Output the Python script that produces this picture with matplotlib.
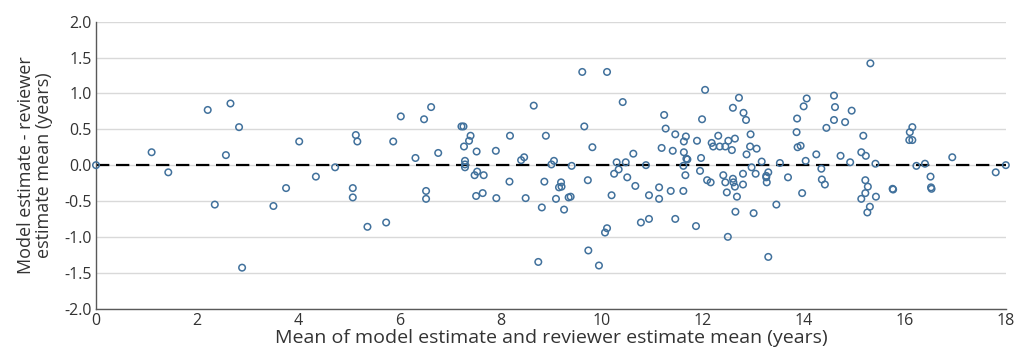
import numpy as np
import matplotlib
matplotlib.use("Agg")
import matplotlib.pyplot as plt
from matplotlib.ticker import FormatStrFormatter

# ==========================================
# Data: mean of estimates vs. difference
# ==========================================

mean_years = [
    0.00, 1.10, 1.43, 2.21, 2.35, 2.57, 2.66, 2.83, 2.89, 3.51,
    3.76, 4.02, 4.35, 4.73, 5.08, 5.08, 5.14, 5.17, 5.37, 5.74,
    5.88, 6.03, 6.32, 6.49, 6.53, 6.53, 6.63, 6.77, 7.23, 7.27,
    7.28, 7.30, 7.30, 7.30, 7.38, 7.41, 7.49, 7.52, 7.53, 7.54,
    7.65, 7.67, 7.91, 7.92, 8.18, 8.19, 8.41, 8.47, 8.50, 8.66,
    8.75, 8.82, 8.87, 8.90, 9.01, 9.06, 9.10, 9.16, 9.20, 9.21,
    9.26, 9.35, 9.39, 9.41, 9.62, 9.66, 9.73, 9.74, 9.82, 9.95,
    10.07, 10.11, 10.11, 10.20, 10.25, 10.30, 10.34, 10.42, 10.48, 10.51,
    10.63, 10.67, 10.78, 10.88, 10.94, 10.94, 11.14, 11.14, 11.19, 11.24,
    11.27, 11.37, 11.41, 11.46, 11.46, 11.62, 11.62, 11.63, 11.66, 11.67,
    11.68, 11.63, 11.70, 11.87, 11.89, 11.95, 11.97, 11.99, 12.05, 12.09,
    12.16, 12.18, 12.21, 12.31, 12.34, 12.41, 12.45, 12.45, 12.48, 12.50,
    12.51, 12.58, 12.60, 12.60, 12.61, 12.64, 12.64, 12.65, 12.68, 12.72,
    12.80, 12.80, 12.81, 12.86, 12.87, 12.94, 12.95, 12.97, 13.01, 13.05,
    13.07, 13.17, 13.26, 13.26, 13.27, 13.30, 13.30, 13.46, 13.53, 13.69,
    13.86, 13.87, 13.88, 13.94, 13.97, 14.00, 14.04, 14.06, 14.25, 14.35,
    14.36, 14.42, 14.45, 14.60, 14.60, 14.62, 14.73, 14.82, 14.92, 14.95,
    15.14, 15.14, 15.18, 15.22, 15.22, 15.23, 15.26, 15.27, 15.31, 15.32,
    15.42, 15.43, 15.76, 15.77, 16.09, 16.10, 16.15, 16.15, 16.23, 16.40,
    16.51, 16.52, 16.53, 16.94, 17.80, 18.00,
]

diff_years = [
    0.00, 0.18, -0.10, 0.77, -0.55, 0.14, 0.86, 0.53, -1.43, -0.57,
    -0.32, 0.33, -0.16, -0.03, -0.32, -0.45, 0.42, 0.33, -0.86, -0.80,
    0.33, 0.68, 0.10, 0.64, -0.36, -0.47, 0.81, 0.17, 0.54, 0.54,
    0.26, 0.06, 0.01, -0.03, 0.34, 0.41, -0.14, -0.43, 0.19, -0.09,
    -0.39, -0.14, 0.20, -0.46, -0.23, 0.41, 0.07, 0.11, -0.46, 0.83,
    -1.35, -0.59, -0.23, 0.41, 0.01, 0.06, -0.47, -0.31, -0.24, -0.30,
    -0.62, -0.45, -0.44, -0.01, 1.30, 0.54, -0.21, -1.19, 0.25, -1.40,
    -0.94, -0.88, 1.30, -0.42, -0.12, 0.04, -0.06, 0.88, 0.04, -0.17,
    0.16, -0.29, -0.80, 0.00, -0.75, -0.42, -0.31, -0.47, 0.24, 0.70,
    0.51, -0.36, 0.20, 0.43, -0.75, -0.36, -0.01, 0.33, -0.14, 0.40,
    0.09, 0.18, 0.08, -0.85, 0.34, -0.08, 0.10, 0.64, 1.05, -0.21,
    -0.24, 0.31, 0.26, 0.41, 0.26, -0.14, 0.26, -0.24, -0.38, -1.00,
    0.34, 0.21, 0.80, -0.19, -0.24, -0.30, 0.37, -0.65, -0.44, 0.94,
    -0.12, -0.27, 0.73, 0.63, 0.15, 0.26, 0.43, -0.03, -0.67, -0.12,
    0.23, 0.05, -0.15, -0.17, -0.24, -0.10, -1.28, -0.55, 0.03, -0.17,
    0.46, 0.65, 0.25, 0.27, -0.39, 0.82, 0.06, 0.93, 0.15, -0.05,
    -0.20, -0.27, 0.52, 0.97, 0.63, 0.81, 0.13, 0.60, 0.04, 0.76,
    0.18, -0.47, 0.41, -0.21, -0.39, 0.13, -0.66, -0.30, -0.58, 1.42,
    0.02, -0.44, -0.33, -0.34, 0.35, 0.46, 0.53, 0.35, -0.01, 0.02,
    -0.16, -0.31, -0.33, 0.11, -0.10, 0.00,
]

x_ticks = [0, 2, 4, 6, 8, 10, 12, 14, 16, 18]
y_ticks = [-2.0, -1.5, -1.0, -0.5, 0.0, 0.5, 1.0, 1.5, 2.0]

# ==========================================
# Plot
# ==========================================

plt.rcParams["font.family"] = ["Open Sans", "DejaVu Sans"]

fig = plt.figure(figsize=(10.16, 3.51), dpi=100)
ax = fig.add_axes([0.0945, 0.121, 0.8955, 0.817])

ax.set_axisbelow(True)
ax.yaxis.grid(True, color="#d9d9d9", linewidth=1.0)

ax.axhline(0, color="black", linewidth=1.6, dashes=(6, 3), zorder=2)

ax.scatter(
    mean_years,
    diff_years,
    s=22,
    facecolors="none",
    edgecolors="#41719c",
    linewidths=1.1,
    zorder=3,
    clip_on=False
)

ax.set_xlim(0, 18)
ax.set_ylim(-2.0, 2.0)
ax.set_xticks(x_ticks)
ax.set_yticks(y_ticks)
ax.yaxis.set_major_formatter(FormatStrFormatter("%.1f"))
ax.tick_params(length=0, labelsize=11.5, colors="#333333", pad=3)

for side in ["top", "right"]:
    ax.spines[side].set_visible(False)
for side in ["left", "bottom"]:
    ax.spines[side].set_color("#595959")
    ax.spines[side].set_linewidth(1.0)

ax.set_xlabel(
    "Mean of model estimate and reviewer estimate mean (years)",
    fontsize=14, color="#333333", labelpad=0
)
ax.set_ylabel(
    "Model estimate - reviewer\nestimate mean (years)",
    fontsize=13, color="#333333", labelpad=8, linespacing=1.0
)

fig.savefig("out.png", dpi=100)
